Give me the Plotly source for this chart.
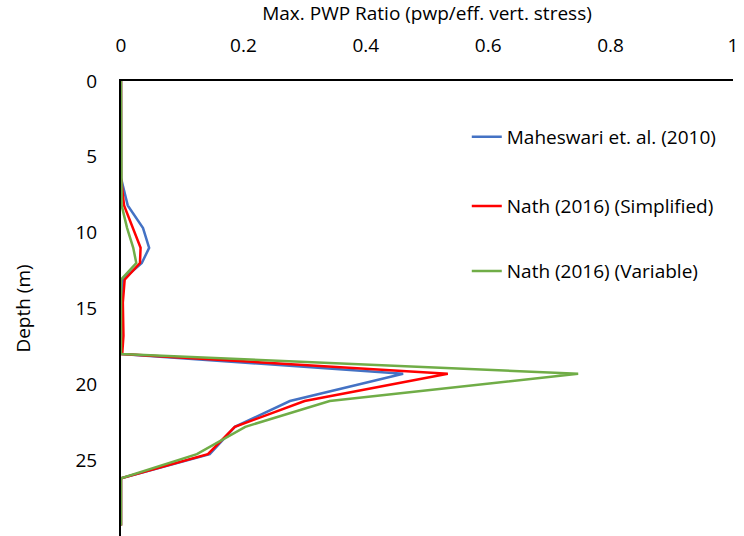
import plotly.graph_objects as go

depth = [0, 6.4, 8.2, 9.7, 11.0, 12.0, 13.1, 14.6, 16.8, 18.0, 19.3, 21.1, 22.8, 24.6, 26.2, 29.3]
maheswari = [0, 0, 0.011, 0.036, 0.046, 0.034, 0.003, 0.001, 0.001, 0.001, 0.461, 0.276, 0.186, 0.145, 0, 0]
nath_simplified = [0, 0, 0.005, 0.02, 0.032, 0.031, 0.006, 0.003, 0.004, 0.002, 0.534, 0.300, 0.186, 0.142, 0, 0]
nath_variable = [0, 0, 0.001, 0.01, 0.02, 0.025, 0, 0, 0, 0, 0.747, 0.341, 0.203, 0.124, 0, 0]

names = ["Maheswari et. al. (2010)", "Nath (2016) (Simplified)", "Nath (2016) (Variable)"]
colors = ["#4472C4", "#FF0000", "#70AD47"]
series = [maheswari, nath_simplified, nath_variable]
legend_ids = ["legend", "legend2", "legend3"]

FONT = "Open Sans"

fig = go.Figure()
for name, col, vals, lg in zip(names, colors, series, legend_ids):
    fig.add_trace(go.Scatter(x=vals, y=depth, mode="lines", name=name,
                             line=dict(color=col, width=2.5), legend=lg))

leg_common = dict(x=0.565, xanchor="left", yanchor="middle",
                  font=dict(family=FONT, size=19, color="#000000"),
                  bgcolor="rgba(0,0,0,0)", borderwidth=0)

fig.update_layout(
    width=744, height=536,
    margin=dict(l=121, r=11, t=81, b=0),
    paper_bgcolor="white", plot_bgcolor="white",
    font=dict(family=FONT, size=19, color="#000000"),
    showlegend=True,
    legend=dict(y=0.877, **leg_common),
    legend2=dict(y=0.725, **leg_common),
    legend3=dict(y=0.582, **leg_common),
    xaxis=dict(
        side="top", range=[0, 1], tickvals=[0, 0.2, 0.4, 0.6, 0.8, 1],
        ticktext=["0", "0.2", "0.4", "0.6", "0.8", "1"],
        showgrid=False, zeroline=False,
        showline=True, linecolor="black", linewidth=2,
        ticks="outside", ticklen=19, tickcolor="rgba(0,0,0,0)",
        title=dict(text="Max. PWP Ratio (pwp/eff. vert. stress)",
                   font=dict(family=FONT, size=19), standoff=8),
        tickfont=dict(family=FONT, size=19),
    ),
    yaxis=dict(
        range=[30, 0], tickvals=[0, 5, 10, 15, 20, 25],
        showgrid=False, zeroline=False,
        showline=True, linecolor="black", linewidth=2,
        ticks="outside", ticklen=18, tickcolor="rgba(0,0,0,0)",
        title=dict(text="Depth (m)", font=dict(family=FONT, size=19), standoff=40),
        tickfont=dict(family=FONT, size=19),
    ),
)

fig.write_html("out.html")
